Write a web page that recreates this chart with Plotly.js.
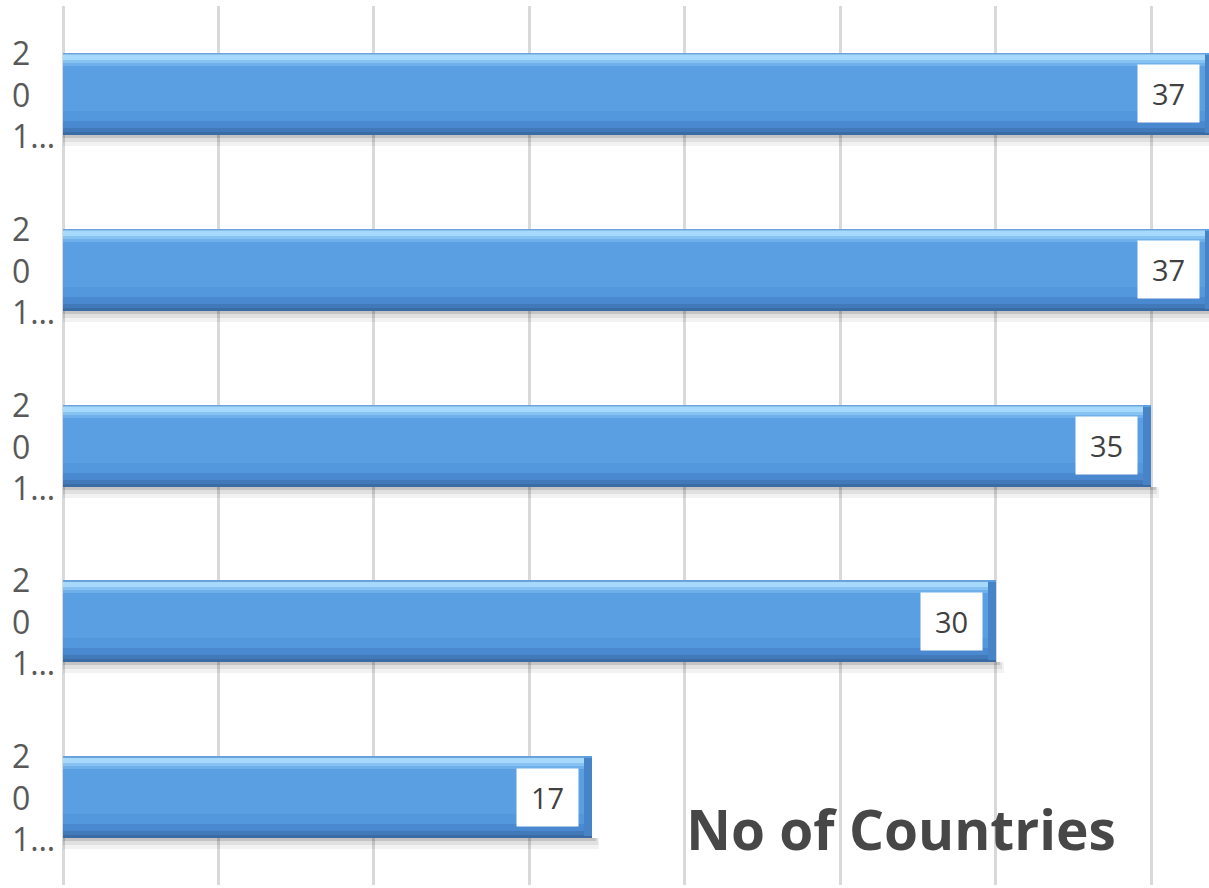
<!DOCTYPE html>
<html>
<head>
<meta charset="utf-8">
<script src="https://cdn.plot.ly/plotly-3.0.1.min.js"></script>
<style>
  html, body { margin: 0; padding: 0; overflow: hidden; background: #ffffff; }
  #chart { width: 1229px; height: 888px; }
</style>
</head>
<body>
<div id="chart"></div>
<script>
// Number of countries per year, top bar first
const yearLabels = ['2<br>0<br>1…', '2<br>0<br>1…', '2<br>0<br>1…', '2<br>0<br>1…', '2<br>0<br>1…'];
const countries = [37, 37, 35, 30, 17];
const chartTitle = 'No of Countries';

const positions = countries.map((_, i) => i);
const PX = 879 / 5;             // pixels per category slot
const BAR_H = 82 / PX;          // bar thickness in category units
const TOP = -BAR_H / 2;         // offset of the bar's top edge

// horizontal band of a bar, measured in pixels from its top edge
function band(fromPx, heightPx, color, extra) {
  return Object.assign({
    type: 'bar',
    orientation: 'h',
    y: positions,
    x: countries,
    offset: TOP + fromPx / PX,
    width: heightPx / PX,
    marker: { color: color, line: { width: 0 } },
    hoverinfo: 'skip',
    showlegend: false
  }, extra || {});
}

const traces = [
  // soft drop shadow under each bar
  band(82, 11, 'rgba(0,0,0,0.05)', { x: countries.map(v => v + 0.25) }),
  band(82, 7, 'rgba(0,0,0,0.07)', { x: countries.map(v => v + 0.2) }),
  band(82, 3, 'rgba(0,0,0,0.12)', { x: countries.map(v => v + 0.15) }),
  // bevelled body, darkest band first
  band(0, 82, '#3a6ba4'),
  band(0, 79, '#4179b9'),
  band(0, 75, '#4a89cf'),
  band(0, 68, '#5398dc'),
  band(0, 58, '#5a9fe1'),
  // right-hand bevel
  band(2, 78, '#4683c7', { x: countries.map(() => 0.26), base: countries.map(v => v - 0.26) }),
  // top highlight
  band(1, 12, '#6fb0ec', { x: countries.map(v => v - 0.26) }),
  band(1, 9, '#86c3f3', { x: countries.map(v => v - 0.26) }),
  band(2, 5, '#a6d9fb', { x: countries.map(v => v - 0.26) }),
  band(0, 1.5, '#6aa3da', { x: countries.map(v => v - 0.26) })
];

const annotations = [];
// value labels in white boxes at the bar ends
countries.forEach((v, i) => {
  annotations.push({
    xref: 'x', yref: 'y', x: v, y: positions[i],
    xanchor: 'right', yanchor: 'middle', xshift: -13,
    text: String(v), showarrow: false,
    bgcolor: '#ffffff', borderpad: 0, width: 61, height: 57,
    font: { family: 'Open Sans', size: 29, color: '#404040' }
  });
});
// category labels, left-aligned stacks of characters
yearLabels.forEach((t, i) => {
  annotations.push({
    xref: 'paper', yref: 'y', x: 0, y: positions[i],
    xanchor: 'left', yanchor: 'middle', xshift: -53, align: 'left',
    text: t, showarrow: false,
    font: { family: 'Open Sans', size: 32, color: '#595959' }
  });
});

const layout = {
  width: 1229,
  height: 888,
  margin: { l: 63, r: 0, t: 6, b: 3 },
  paper_bgcolor: '#ffffff',
  plot_bgcolor: '#ffffff',
  barmode: 'overlay',
  bargap: 0,
  title: {
    text: chartTitle,
    x: 901 / 1229, y: 1 - 831 / 888,
    xanchor: 'center', yanchor: 'middle',
    font: { family: 'Open Sans', size: 55, weight: 'bold', color: '#474747' }
  },
  xaxis: {
    range: [0, 37.5],
    dtick: 5,
    showgrid: true,
    gridcolor: '#d9d9d9',
    gridwidth: 3,
    zeroline: true,
    zerolinecolor: '#d9d9d9',
    zerolinewidth: 3,
    showticklabels: false,
    ticks: '',
    fixedrange: true
  },
  yaxis: {
    range: [4.5, -0.5],
    showgrid: false,
    zeroline: false,
    showticklabels: false,
    ticks: '',
    fixedrange: true
  },
  annotations: annotations,
  showlegend: false
};

Plotly.newPlot('chart', traces, layout, { displayModeBar: false, staticPlot: true });
</script>
</body>
</html>
